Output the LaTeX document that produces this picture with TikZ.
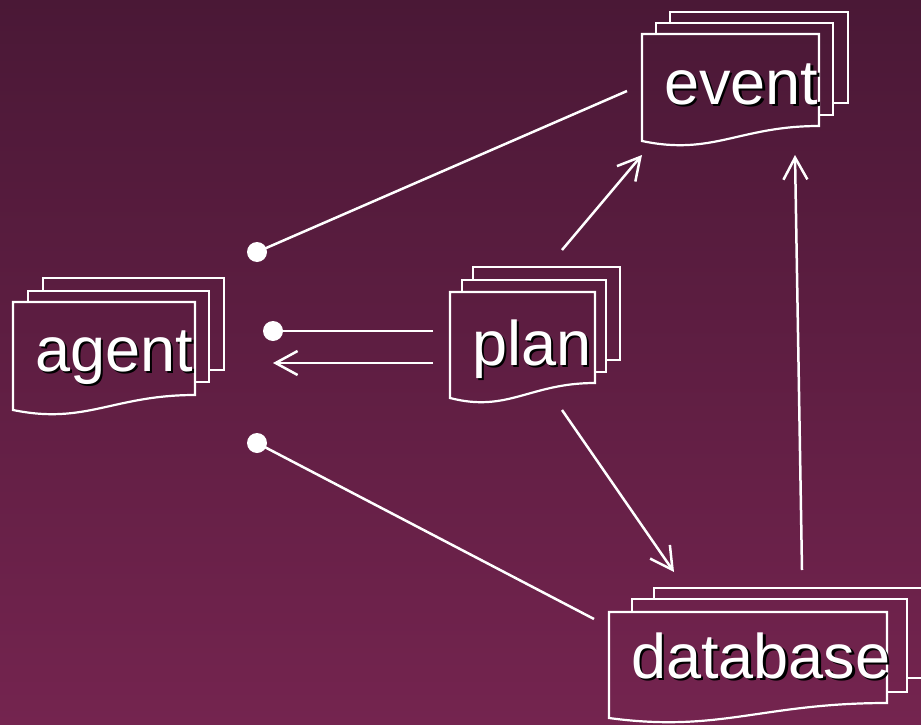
\documentclass[tikz,border=0pt]{standalone}
\usepackage{fontspec}
\setmainfont{Liberation Sans}
\usetikzlibrary{arrows.meta}

\definecolor{bgtop}{HTML}{4A1836}
\definecolor{bgbot}{HTML}{74244F}

\tikzset{
  pageline/.style={draw=white, line width=2.2pt},
  wire/.style={draw=white, line width=2.5pt},
  arrowed/.style={wire, -{Straight Barb[length=22pt,width=24pt]}},
  dotted end/.style={fill=white},
  lbl/.style={font=\fontsize{63}{63}\selectfont, text=white, anchor=base west, inner sep=0pt},
}

% white label over a black drop shadow
\newcommand\shadowed[1]{\rlap{\hspace{2.5pt}\raisebox{-2.5pt}{\color{black}#1}}#1}

% background gradient, reused to fill each sheet so sheets are opaque
\newcommand\bgshade{\shade[top color=bgtop,bottom color=bgbot] (0,0) rectangle (921,725);}

% plain rectangular sheet: x0, top, x1, bottom
\newcommand\backsheet[4]{%
  \begin{scope}\clip (#1,#2) rectangle (#3,#4);\bgshade\end{scope}
  \draw[pageline] (#1,#2) rectangle (#3,#4);}

% front sheet with wavy lower edge: x0, top, x1, bottom (right side)
\newcommand\frontsheet[4]{%
  \begin{scope}
    \clip (#1,#2) -- (#3,#2) -- (#3,#4)
      .. controls ({#3-0.45*(#3-#1)},#4) and ({#1+0.4*(#3-#1)},{#4+30}) .. (#1,{#4+15}) -- cycle;
    \bgshade
  \end{scope}
  \draw[pageline] (#1,#2) -- (#3,#2) -- (#3,#4)
      .. controls ({#3-0.45*(#3-#1)},#4) and ({#1+0.4*(#3-#1)},{#4+30}) .. (#1,{#4+15}) -- cycle;}

\begin{document}
\begin{tikzpicture}[x=1pt,y=-1pt]
  \bgshade
  \useasboundingbox (0,0) rectangle (921,725);

  % document stacks
  \backsheet{43}{278}{224}{370}
  \backsheet{28}{291}{209}{382}
  \frontsheet{13}{302}{195}{395}

  \backsheet{670}{12}{848}{103}
  \backsheet{656}{23}{833}{115}
  \frontsheet{642}{34}{819}{126}

  \backsheet{473}{267}{620}{360}
  \backsheet{462}{280}{606}{372}
  \frontsheet{450}{292}{595}{383}

  \backsheet{654}{588}{945}{678}
  \backsheet{632}{599}{907}{692}
  \frontsheet{609}{612}{887}{703}

  % labels
  \node[lbl] (agent) at (35,371) {\shadowed{agent}};
  \node[lbl] (event) at (664,104) {\shadowed{event}};
  \node[lbl] (plan) at (472,365) {\shadowed{plan}};
  \node[lbl] (database) at (631,678) {\shadowed{database}};

  % connector end points
  \coordinate (dotAE) at (257,252);
  \coordinate (eventIn) at (627,91);
  \coordinate (dotAP) at (273,331);
  \coordinate (planOutDot) at (433,331);
  \coordinate (planOutArr) at (433,363);
  \coordinate (agentIn) at (273,363);
  \coordinate (dotAD) at (257,443);
  \coordinate (databaseIn) at (594,619);
  \coordinate (planUp) at (562,250);
  \coordinate (eventArrA) at (642,155);
  \coordinate (planDown) at (562,410);
  \coordinate (databaseArr) at (674,572);
  \coordinate (databaseUp) at (802,570);
  \coordinate (eventArrB) at (795,155);

  % connectors
  \draw[wire] (dotAE) -- (eventIn);
  \draw[wire] (planOutDot) -- (dotAP);
  \draw[arrowed] (planOutArr) -- (agentIn);
  \draw[wire] (dotAD) -- (databaseIn);
  \draw[arrowed] (planUp) -- (eventArrA);
  \draw[arrowed] (planDown) -- (databaseArr);
  \draw[arrowed] (databaseUp) -- (eventArrB);

  \fill[dotted end] (dotAE) circle (10pt);
  \fill[dotted end] (dotAP) circle (10pt);
  \fill[dotted end] (dotAD) circle (10pt);
\end{tikzpicture}
\end{document}
